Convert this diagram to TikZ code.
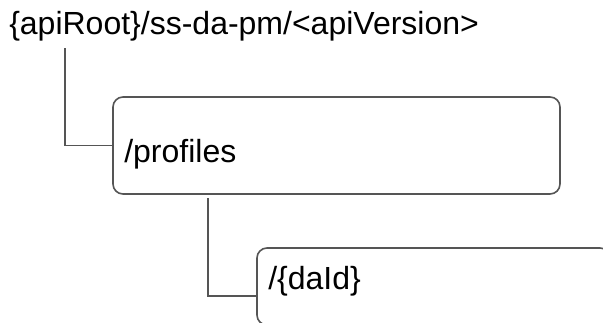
\documentclass[tikz,border=0pt]{standalone}
\usepackage{fontspec}
\setmainfont{Liberation Sans}
\usetikzlibrary{positioning,fit}
\definecolor{ink}{HTML}{000000}
\definecolor{edge}{HTML}{555555}
\tikzset{
  every node/.style={font=\fontsize{24}{28}\selectfont,text=ink},
  resbox/.style={draw=edge,line width=1.2pt,rounded corners=7.5pt,inner sep=0pt},
  reslabel/.style={anchor=base west,inner sep=0pt},
  branch/.style={draw=edge,line width=1.2pt},
}
\begin{document}
\begin{tikzpicture}[x=0.75pt,y=-0.75pt]
\path[use as bounding box,clip] (0,0) rectangle (603,322);

\node[reslabel] (root) at (9,34) {\{apiRoot\}/ss-da-pm/<apiVersion>};

\node[resbox,fit={(113,97) (560,194)}] (profiles) {};
\node[reslabel] (profileslbl) at (124,162) {/profiles};

\node[resbox,fit={(257,248) (610,325)}] (daid) {};
\node[reslabel] (daidlbl) at (268,289) {/\{daId\}};

\coordinate (rootfoot) at (65,48);
\coordinate (profilesfoot) at (208,198);
\draw[branch] (rootfoot) |- (profiles.west);
\draw[branch] (profilesfoot) |- (daid.west |- 0,296);

\end{tikzpicture}
\end{document}
